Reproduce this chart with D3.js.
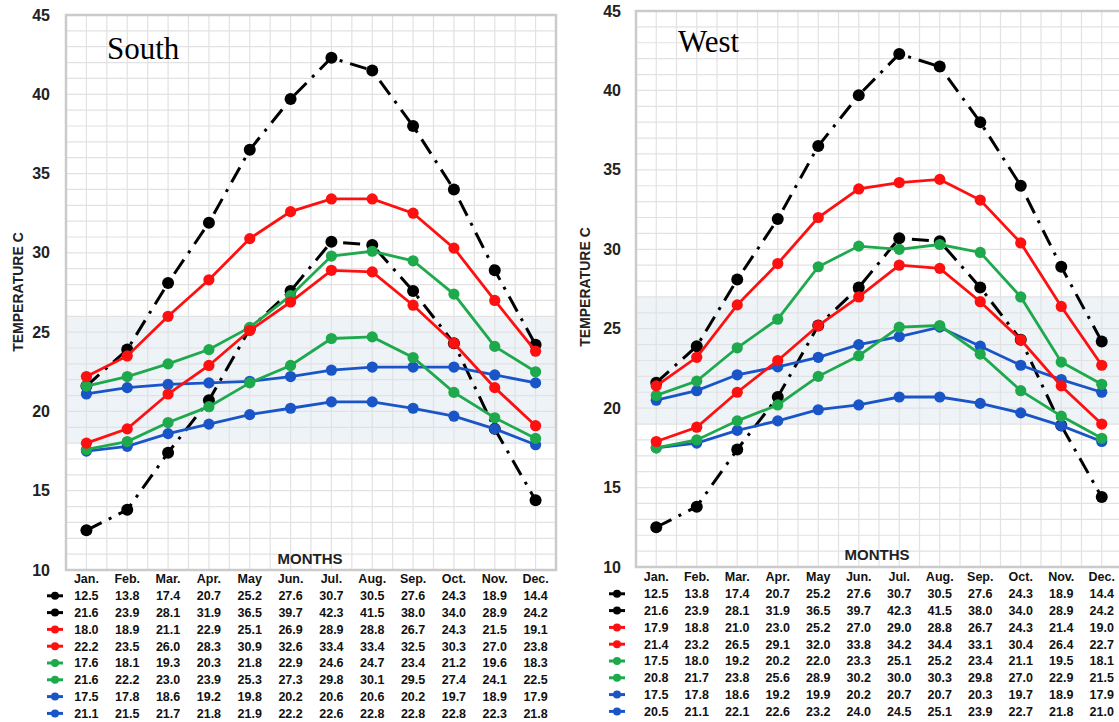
<!DOCTYPE html>
<html>
<head>
<meta charset="utf-8">
<script src="https://cdn.jsdelivr.net/npm/d3@7"></script>
<style>
  html, body { margin: 0; padding: 0; background: #fff; }
  svg { display: block; }
  .tbl { font-family: "Liberation Sans Narrow", "Arial Narrow", "Liberation Sans", Arial, sans-serif; font-weight: bold; font-size: 12.5px; fill: #111; }
  .tick { font-family: "Liberation Sans", Arial, sans-serif; font-weight: bold; font-size: 16px; fill: #222; }
  .axtitle { font-family: "Liberation Sans", Arial, sans-serif; font-weight: bold; fill: #222; }
  .panelTitle { font-family: "Liberation Serif", "Times New Roman", serif; font-size: 31px; fill: #000; }
</style>
</head>
<body>
<svg id="chart" width="1119" height="722"></svg>
<script>
// Monthly temperature ranges (°C), two regions
const months = ["Jan.", "Feb.", "Mar.", "Apr.", "May", "Jun.", "Jul.", "Aug.", "Sep.", "Oct.", "Nov.", "Dec."];
const yTicks = [10, 15, 20, 25, 30, 35, 40, 45];

// South
const southBlackMin = [12.5, 13.8, 17.4, 20.7, 25.2, 27.6, 30.7, 30.5, 27.6, 24.3, 18.9, 14.4];
const southBlackMax = [21.6, 23.9, 28.1, 31.9, 36.5, 39.7, 42.3, 41.5, 38.0, 34.0, 28.9, 24.2];
const southRedMin   = [18.0, 18.9, 21.1, 22.9, 25.1, 26.9, 28.9, 28.8, 26.7, 24.3, 21.5, 19.1];
const southRedMax   = [22.2, 23.5, 26.0, 28.3, 30.9, 32.6, 33.4, 33.4, 32.5, 30.3, 27.0, 23.8];
const southGreenMin = [17.6, 18.1, 19.3, 20.3, 21.8, 22.9, 24.6, 24.7, 23.4, 21.2, 19.6, 18.3];
const southGreenMax = [21.6, 22.2, 23.0, 23.9, 25.3, 27.3, 29.8, 30.1, 29.5, 27.4, 24.1, 22.5];
const southBlueMin  = [17.5, 17.8, 18.6, 19.2, 19.8, 20.2, 20.6, 20.6, 20.2, 19.7, 18.9, 17.9];
const southBlueMax  = [21.1, 21.5, 21.7, 21.8, 21.9, 22.2, 22.6, 22.8, 22.8, 22.8, 22.3, 21.8];
const southBand = [18, 26];

// West
const westBlackMin = [12.5, 13.8, 17.4, 20.7, 25.2, 27.6, 30.7, 30.5, 27.6, 24.3, 18.9, 14.4];
const westBlackMax = [21.6, 23.9, 28.1, 31.9, 36.5, 39.7, 42.3, 41.5, 38.0, 34.0, 28.9, 24.2];
const westRedMin   = [17.9, 18.8, 21.0, 23.0, 25.2, 27.0, 29.0, 28.8, 26.7, 24.3, 21.4, 19.0];
const westRedMax   = [21.4, 23.2, 26.5, 29.1, 32.0, 33.8, 34.2, 34.4, 33.1, 30.4, 26.4, 22.7];
const westGreenMin = [17.5, 18.0, 19.2, 20.2, 22.0, 23.3, 25.1, 25.2, 23.4, 21.1, 19.5, 18.1];
const westGreenMax = [20.8, 21.7, 23.8, 25.6, 28.9, 30.2, 30.0, 30.3, 29.8, 27.0, 22.9, 21.5];
const westBlueMin  = [17.5, 17.8, 18.6, 19.2, 19.9, 20.2, 20.7, 20.7, 20.3, 19.7, 18.9, 17.9];
const westBlueMax  = [20.5, 21.1, 22.1, 22.6, 23.2, 24.0, 24.5, 25.1, 23.9, 22.7, 21.8, 21.0];
const westBand = [19, 27];

const COLORS = { black: "#000000", red: "#ff1010", green: "#1ea94c", blue: "#1a55c8" };
// lines are painted black first, then blue, green and red on top
const PAINT_ORDER = ["black", "blue", "green", "red"];

const svg = d3.select("#chart");

function drawPanel(cfg) {
  const g = svg.append("g");
  const x = d3.scalePoint().domain(months).range([cfg.left, cfg.right]).padding(0.5);
  const y = d3.scaleLinear().domain([10, 45]).range([cfg.bottom, cfg.top]);
  const half = x.step() / 2;

  const clipId = "clip-" + cfg.name;
  svg.append("clipPath").attr("id", clipId)
    .append("rect").attr("x", cfg.left).attr("y", cfg.top)
    .attr("width", cfg.right - cfg.left).attr("height", cfg.bottom - cfg.top);

  // comfort band
  g.append("rect")
    .attr("x", cfg.left).attr("width", cfg.right - cfg.left)
    .attr("y", y(cfg.band[1])).attr("height", y(cfg.band[0]) - y(cfg.band[1]))
    .attr("fill", "#eef3f8");

  // grid: horizontal every degree, vertical every half month
  const grid = g.append("g").attr("stroke", "#e2e2e2").attr("stroke-width", 1.2);
  grid.selectAll("line.h").data(d3.range(11, 45)).join("line")
    .attr("x1", cfg.left).attr("x2", cfg.right)
    .attr("y1", d => y(d)).attr("y2", d => y(d));
  const vx = d3.range(1, 24).map(i => cfg.left + i * half);
  grid.selectAll("line.v").data(vx).join("line")
    .attr("x1", d => d).attr("x2", d => d)
    .attr("y1", cfg.top).attr("y2", cfg.bottom);

  // frame
  g.append("rect")
    .attr("x", cfg.left).attr("y", cfg.top)
    .attr("width", cfg.right - cfg.left).attr("height", cfg.bottom - cfg.top)
    .attr("fill", "none").attr("stroke", "#cbcbcb").attr("stroke-width", 2.5);

  // y tick labels
  g.selectAll("text.tick").data(yTicks).join("text")
    .attr("class", "tick")
    .attr("x", cfg.tickX).attr("y", d => y(d))
    .attr("text-anchor", "end").attr("dy", "0.35em")
    .text(d => d);

  // axis titles
  g.append("text").attr("class", "axtitle")
    .attr("transform", `translate(${cfg.yTitleX},${cfg.yTitleY}) rotate(-90)`)
    .attr("text-anchor", "middle").attr("dy", "0.35em")
    .style("font-size", "14px")
    .text("TEMPERATURE C");
  g.append("text").attr("class", "axtitle")
    .attr("x", cfg.monthsX).attr("y", cfg.monthsY)
    .attr("text-anchor", "middle").style("font-size", "15px")
    .text("MONTHS");

  // panel title
  g.append("text").attr("class", "panelTitle")
    .attr("x", cfg.titleX).attr("y", cfg.titleY)
    .text(cfg.name);

  // series lines and markers
  const line = d3.line().x((d, i) => x(months[i])).y(d => y(d));
  const plot = g.append("g").attr("clip-path", `url(#${clipId})`);
  const painted = cfg.series.slice().sort((a, b) =>
    PAINT_ORDER.indexOf(a.color) - PAINT_ORDER.indexOf(b.color));
  painted.forEach(s => {
    const dashed = s.color === "black";
    plot.append("path")
      .attr("d", line(s.values))
      .attr("fill", "none")
      .attr("stroke", COLORS[s.color])
      .attr("stroke-width", dashed ? 3 : 2.8)
      .attr("stroke-dasharray", dashed ? "17,8,3,8" : null);
    plot.selectAll(null).data(s.values).join("circle")
      .attr("cx", (d, i) => x(months[i])).attr("cy", d => y(d))
      .attr("r", dashed ? 6 : 5.6)
      .attr("fill", COLORS[s.color]);
  });

  // data table below the chart
  const tbl = g.append("g");
  tbl.selectAll("text.m").data(months).join("text")
    .attr("class", "tbl")
    .attr("x", d => x(d)).attr("y", cfg.tableTop)
    .attr("text-anchor", "middle").attr("dy", "0.35em")
    .text(d => d);
  cfg.series.forEach((s, r) => {
    const ry = cfg.tableTop + (r + 1) * cfg.rowH;
    tbl.append("line")
      .attr("x1", cfg.keyX - 8).attr("x2", cfg.keyX + 8)
      .attr("y1", ry).attr("y2", ry)
      .attr("stroke", COLORS[s.color]).attr("stroke-width", 3);
    tbl.append("circle").attr("cx", cfg.keyX).attr("cy", ry).attr("r", 4)
      .attr("fill", COLORS[s.color]);
    tbl.selectAll(null).data(s.values).join("text")
      .attr("class", "tbl")
      .attr("x", (d, i) => x(months[i])).attr("y", ry)
      .attr("text-anchor", "middle").attr("dy", "0.35em")
      .text(d => d.toFixed(1));
  });
}

drawPanel({
  name: "South",
  left: 66, right: 556, top: 15, bottom: 570,
  band: southBand,
  tickX: 50, yTitleX: 18, yTitleY: 292,
  monthsX: 310, monthsY: 564,
  titleX: 107, titleY: 59,
  tableTop: 579, rowH: 16.8, keyX: 55,
  series: [
    { color: "black", values: southBlackMin },
    { color: "black", values: southBlackMax },
    { color: "red",   values: southRedMin },
    { color: "red",   values: southRedMax },
    { color: "green", values: southGreenMin },
    { color: "green", values: southGreenMax },
    { color: "blue",  values: southBlueMin },
    { color: "blue",  values: southBlueMax }
  ]
});

drawPanel({
  name: "West",
  left: 636, right: 1122, top: 11, bottom: 567,
  band: westBand,
  tickX: 621, yTitleX: 585, yTitleY: 287,
  monthsX: 877, monthsY: 560,
  titleX: 678, titleY: 52,
  tableTop: 577, rowH: 16.8, keyX: 617,
  series: [
    { color: "black", values: westBlackMin },
    { color: "black", values: westBlackMax },
    { color: "red",   values: westRedMin },
    { color: "red",   values: westRedMax },
    { color: "green", values: westGreenMin },
    { color: "green", values: westGreenMax },
    { color: "blue",  values: westBlueMin },
    { color: "blue",  values: westBlueMax }
  ]
});
</script>
</body>
</html>
